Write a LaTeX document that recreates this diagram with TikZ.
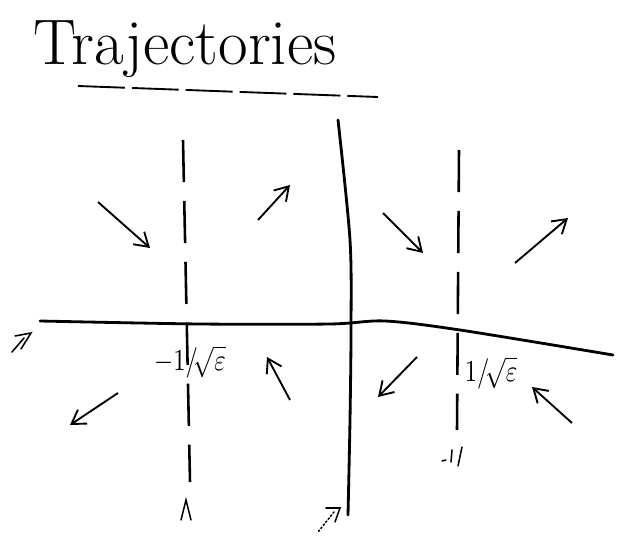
\documentclass[tikz,border=0pt]{standalone}
\usetikzlibrary{arrows.meta}
\newcommand{\bigmath}[1]{\scalebox{2.1}[2.6]{$#1$}}
\begin{document}
\begin{tikzpicture}[x=0.03cm,y=-0.03cm,
 axis/.style={line width=2.4pt,line cap=round},
 guide/.style={line width=2.2pt,dash pattern=on 36pt off 16pt},
 flow/.style={line width=1.6pt,-{Straight Barb[length=4mm,width=5mm]}},
 tick/.style={line width=1.3pt,line cap=round},
 lbl/.style={inner sep=0pt}]
\useasboundingbox (0,0) rectangle (621,539);
% title
\node[anchor=base,font=\fontsize{55}{60}\selectfont,inner sep=0pt] (title) at (185,65) {Trajectories};
\draw[line width=1.6pt,dash pattern=on 40pt off 6pt] (78,86) -- (378,97);
% axes
\draw[axis] plot[smooth] coordinates {(40,321) (200,324) (330,324) (385,321) (460,330) (613,355)};
\draw[axis] plot[smooth] coordinates {(338,120) (350,240) (351,330) (350,420) (348,515)};
% lines at -1/sqrt(eps) and 1/sqrt(eps)
\draw[guide] (183,140) -- (190,482);
\draw[tick] (181,520) -- (186,500) -- (191,520);
\draw[guide] (459,150) -- (457,430);
\draw[tick] (442,461) -- (446,460) (452,450) -- (451,462) (462,447) -- (458,466);
\node[lbl] (lneg) at (190,362) {\bigmath{-1/\!\sqrt{\varepsilon}}};
\node[lbl] (lpos) at (491,373) {\bigmath{1/\!\sqrt{\varepsilon}}};
% flow directions
\draw[flow] (98,202) -- (150,248);
\draw[flow] (258,220) -- (290,185);
\draw[flow] (383,213) -- (423,253);
\draw[flow] (515,263) -- (568,218);
\draw[flow] (118,393) -- (70,425);
\draw[flow] (290,400) -- (267,357);
\draw[flow] (417,357) -- (378,397);
\draw[flow] (572,423) -- (532,387);
% small marks at axis ends
\draw[tick] (15,336) -- (31,333) -- (21,349) (12,352) -- (24,338);
\draw[tick] (326,508) -- (340,508) -- (335,522);
\draw[tick,dotted] (334,512) -- (318,532);
\end{tikzpicture}
\end{document}
